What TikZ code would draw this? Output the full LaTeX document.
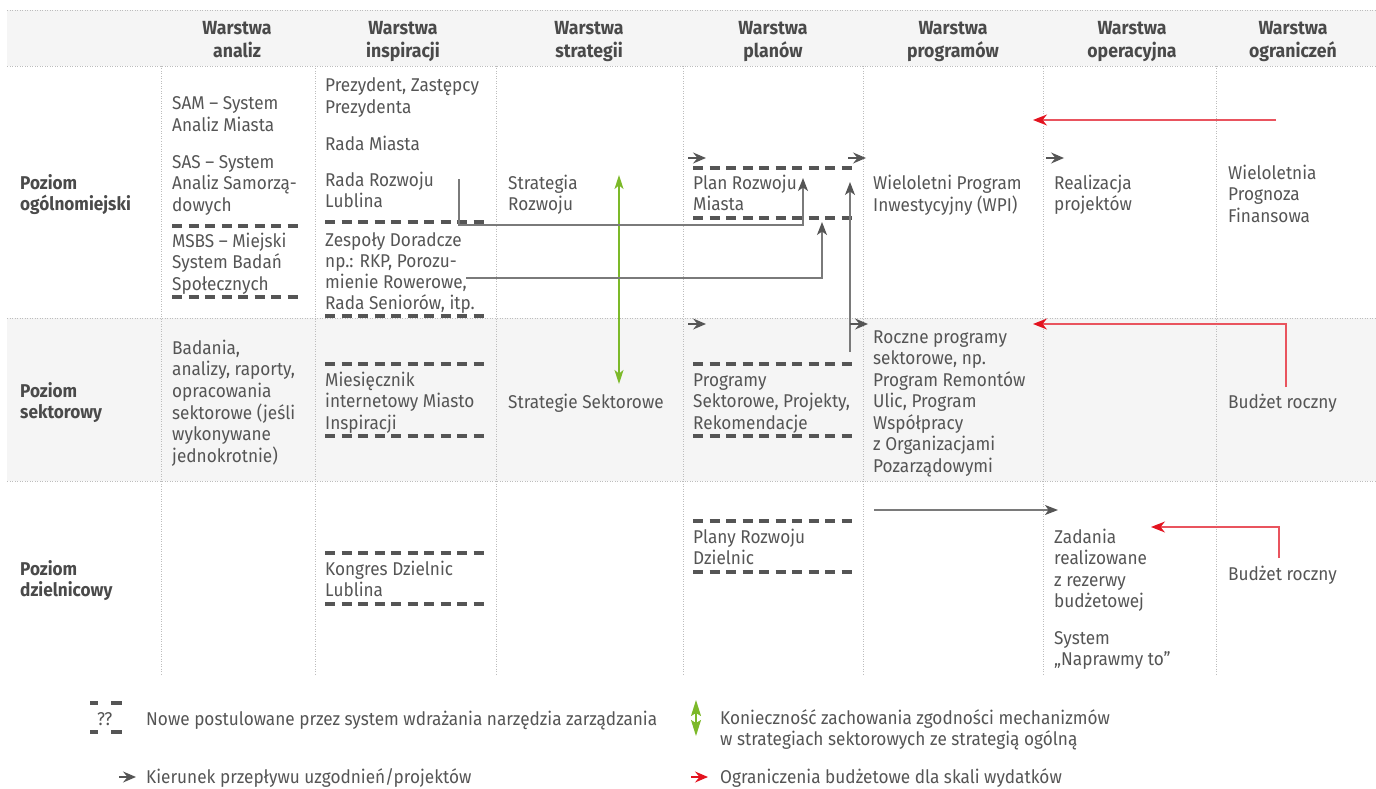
\documentclass[tikz,border=0pt]{standalone}
\usepackage{fontspec}
\setmainfont{Fira Sans}[FakeStretch=0.93]
\usetikzlibrary{arrows.meta}
\definecolor{txtc}{HTML}{555555}
\definecolor{hdrc}{HTML}{4A4A4A}
\definecolor{dashc}{HTML}{555555}
\definecolor{gridc}{HTML}{BDBDBD}
\definecolor{bgc}{HTML}{F5F5F5}
\definecolor{connc}{HTML}{7A7A7A}
\definecolor{tipc}{HTML}{555555}
\definecolor{greenc}{HTML}{7CB929}
\definecolor{redc}{HTML}{E3131F}
\definecolor{redl}{HTML}{E9545E}
\newcommand{\ml}[1]{\begin{tabular}[t]{@{}l@{}}#1\end{tabular}}
\newcommand{\mc}[1]{\begin{tabular}[t]{@{}c@{}}#1\end{tabular}}
\begin{document}
\begin{tikzpicture}[x=1pt,y=-1pt,
  txt/.style={anchor=base west, inner sep=0pt, text=txtc, font=\fontsize{18.5}{21.5}\selectfont},
  hdr/.style={anchor=base, inner sep=0pt, text=hdrc, font=\fontsize{19}{22}\selectfont\bfseries},
  lvl/.style={anchor=base west, inner sep=0pt, text=hdrc, font=\fontsize{18.5}{21.5}\selectfont\bfseries},
  dsh/.style={draw=dashc, line width=3.2pt, dash pattern=on 10pt off 6.5pt},
  gridl/.style={draw=gridc, line width=0.8pt, dash pattern=on 1pt off 1.5pt},
  conn/.style={draw=connc, line width=1.4pt, -{Stealth[length=13pt,width=10pt,inset=3.5pt,color=tipc]}},
  flow/.style={draw=tipc, line width=1.4pt, -{Stealth[length=13pt,width=11pt,inset=4.5pt]}},
  redarr/.style={draw=redl, line width=1.4pt, -{Stealth[length=14pt,width=11pt,inset=4.5pt,color=redc]}},
  greenarr/.style={draw=greenc, line width=1.4pt, {Stealth[length=14pt,width=9pt,inset=3.5pt]}-{Stealth[length=14pt,width=9pt,inset=3.5pt]}}
]
\useasboundingbox (0,0) rectangle (1376,789);
% backgrounds
\fill[bgc] (7,10) rectangle (1376,66);
\fill[bgc] (7,318) rectangle (1376,481);
\foreach \y in {10,66,318,481} \draw[gridl] (7,\y) -- (1376,\y);
\foreach \x in {161,315,496,683,863,1043,1216} \draw[gridl] (\x,66) -- (\x,675);
% headers
\node[hdr] (h1) at (237,35) {\mc{Warstwa\\analiz}};
\node[hdr] (h2) at (403,35) {\mc{Warstwa\\inspiracji}};
\node[hdr] (h3) at (589,35) {\mc{Warstwa\\strategii}};
\node[hdr] (h4) at (773,35) {\mc{Warstwa\\planów}};
\node[hdr] (h5) at (953,35) {\mc{Warstwa\\programów}};
\node[hdr] (h6) at (1132,35) {\mc{Warstwa\\operacyjna}};
\node[hdr] (h7) at (1293,35) {\mc{Warstwa\\ograniczeń}};
% level labels
\node[lvl] (l1) at (20,189) {\ml{Poziom\\ogólnomiejski}};
\node[lvl] (l2) at (20,397) {\ml{Poziom\\sektorowy}};
\node[lvl] (l3) at (20,575) {\ml{Poziom\\dzielnicowy}};
% analiz
\node[txt] (a1) at (172,110) {\ml{SAM – System\\Analiz Miasta}};
\node[txt] (a2) at (172,168) {\ml{SAS – System\\Analiz Samorzą-\\dowych}};
\draw[dsh] (172,226) -- (303,226);
\node[txt] (a3) at (172,247) {\ml{MSBS – Miejski\\System Badań\\Społecznych}};
\draw[dsh] (172,297) -- (303,297);
\node[txt] (a4) at (172,354) {\ml{Badania,\\analizy, raporty,\\opracowania\\sektorowe (jeśli\\wykonywane\\jednokrotnie)}};
% inspiracji
\node[txt] (i1) at (325,92) {\ml{Prezydent, Zastępcy\\Prezydenta}};
\node[txt] (i2) at (325,150) {Rada Miasta};
\node[txt] (i3) at (325,186) {\ml{Rada Rozwoju\\Lublina}};
\draw[dsh] (325,222) -- (485,222);
\node[txt,font=\fontsize{18.5}{21}\selectfont] (i4) at (325,246) {\ml{Zespoły Doradcze\\np.: RKP, Porozu-\\mienie Rowerowe,\\Rada Seniorów, itp.}};
\draw[dsh] (325,316) -- (485,316);
\draw[dsh] (325,364) -- (485,364);
\node[txt] (i5) at (325,386) {\ml{Miesięcznik\\internetowy Miasto\\Inspiracji}};
\draw[dsh] (325,436) -- (485,436);
\draw[dsh] (325,553) -- (485,553);
\node[txt] (i6) at (325,575) {\ml{Kongres Dzielnic\\Lublina}};
\draw[dsh] (325,604) -- (485,604);
% strategii
\node[txt] (s1) at (508,189) {\ml{Strategia\\Rozwoju}};
\node[txt] (s2) at (508,408) {Strategie Sektorowe};
\coordinate (gtop) at (619,175);
\coordinate (gbot) at (619,384);
\draw[greenarr] (gtop) -- (gbot);
% planow
\draw[dsh] (693,168) -- (852,168);
\node[txt] (p1) at (693,189) {\ml{Plan Rozwoju\\Miasta}};
\draw[dsh] (693,218) -- (852,218);
\draw[dsh] (693,364) -- (852,364);
\node[txt] (p2) at (693,386) {\ml{Programy\\Sektorowe, Projekty,\\Rekomendacje}};
\draw[dsh] (693,436) -- (852,436);
\draw[dsh] (693,521) -- (852,521);
\node[txt] (p3) at (693,543) {\ml{Plany Rozwoju\\Dzielnic}};
\draw[dsh] (693,572) -- (852,572);
% programow
\node[txt] (g1) at (873,189) {\ml{Wieloletni Program\\Inwestycyjny (WPI)}};
\node[txt] (g2) at (873,343) {\ml{Roczne programy\\sektorowe, np.\\Program Remontów\\Ulic, Program\\Współpracy\\z Organizacjami\\Pozarządowymi}};
% operacyjna
\node[txt] (o1) at (1054,189) {\ml{Realizacja\\projektów}};
\node[txt] (o2) at (1054,543) {\ml{Zadania\\realizowane\\z rezerwy\\budżetowej}};
\node[txt] (o3) at (1054,644) {\ml{System\\„Naprawmy to”}};
% ograniczen
\node[txt] (r1) at (1228,179) {\ml{Wieloletnia\\Prognoza\\Finansowa}};
\node[txt] (r2) at (1228,408) {Budżet roczny};
\node[txt] (r3) at (1228,580) {Budżet roczny};
% connectors
\coordinate (c1a) at (459,179);
\coordinate (c1b) at (459,225);
\coordinate (c1c) at (803,225);
\coordinate (c1d) at (803,178);
\draw[conn] (c1a) -- (c1b) -- (c1c) -- (c1d);
\coordinate (c2a) at (466,278);
\coordinate (c2b) at (822,278);
\coordinate (c2c) at (822,222);
\draw[conn] (c2a) -- (c2b) -- (c2c);
\coordinate (c3a) at (850,352);
\coordinate (c3b) at (850,182);
\draw[conn] (c3a) -- (c3b);
\coordinate (c4a) at (874,510);
\coordinate (c4b) at (1058,510);
\draw[conn] (c4a) -- (c4b);
% small flow arrows
\coordinate (f1a) at (688,158); \coordinate (f1b) at (706,158);
\coordinate (f2a) at (848,158); \coordinate (f2b) at (866,158);
\coordinate (f3a) at (1046,158); \coordinate (f3b) at (1064,158);
\coordinate (f4a) at (688,324); \coordinate (f4b) at (706,324);
\coordinate (f5a) at (850,324); \coordinate (f5b) at (868,324);
\draw[flow] (f1a) -- (f1b);
\draw[flow] (f2a) -- (f2b);
\draw[flow] (f3a) -- (f3b);
\draw[flow] (f4a) -- (f4b);
\draw[flow] (f5a) -- (f5b);
% red arrows
\coordinate (r1a) at (1276,120); \coordinate (r1b) at (1033,120);
\draw[redarr] (r1a) -- (r1b);
\coordinate (r2a) at (1286,387); \coordinate (r2b) at (1286,324); \coordinate (r2c) at (1033,324);
\draw[redarr] (r2a) -- (r2b) -- (r2c);
\coordinate (r3a) at (1279,558); \coordinate (r3b) at (1279,527); \coordinate (r3c) at (1151,527);
\draw[redarr] (r3a) -- (r3b) -- (r3c);
% legend
\draw[dashc, line width=3.2pt] (90,703) -- (98,703) (111,703) -- (122,703);
\draw[dashc, line width=3.2pt] (90,732) -- (98,732) (111,732) -- (122,732);
\node[txt] (lq) at (97,725) {??};
\node[txt] (lt1) at (146,725) {Nowe postulowane przez system wdrażania narzędzia zarządzania};
\coordinate (lg1) at (696,700); \coordinate (lg2) at (696,736);
\draw[draw=greenc, line width=1.4pt, {Stealth[length=16pt,width=10pt,inset=3pt]}-{Stealth[length=16pt,width=10pt,inset=3pt]}] (lg1) -- (lg2);
\node[txt] (lt2) at (720,724) {\ml{Konieczność zachowania zgodności mechanizmów\\w strategiach sektorowych ze strategią ogólną}};
\coordinate (lf1) at (119,777); \coordinate (lf2) at (136,777);
\draw[flow] (lf1) -- (lf2);
\node[txt] (lt3) at (146,783) {Kierunek przepływu uzgodnień/projektów};
\coordinate (lr1) at (691,777); \coordinate (lr2) at (708,777);
\draw[draw=redc, line width=1.4pt, -{Stealth[length=13pt,width=11pt,inset=4.5pt]}] (lr1) -- (lr2);
\node[txt] (lt4) at (720,783) {Ograniczenia budżetowe dla skali wydatków};
\end{tikzpicture}
\end{document}
